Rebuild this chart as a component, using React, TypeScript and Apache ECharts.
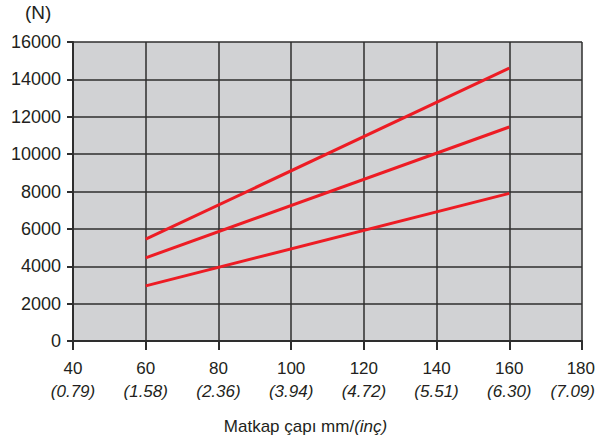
import React, { useEffect, useRef } from "react";
import * as echarts from "echarts";

const xTicksMm = [40, 60, 80, 100, 120, 140, 160, 180];
const xTicksInch = ["0.79", "1.58", "2.36", "3.94", "4.72", "5.51", "6.30", "7.09"];
const lineX = [60, 160];
const upperLine = [5450, 14600];
const middleLine = [4450, 11450];
const lowerLine = [2950, 7900];

const FONT = "Liberation Sans, Arial, sans-serif";
const TXT = "#231f20";
const GRID = "#2e2e2e";
const RED = "#ed1c24";

export default function App() {
  const ref = useRef<HTMLDivElement>(null);
  useEffect(() => {
    if (!ref.current) return;
    const chart = echarts.init(ref.current, undefined, { renderer: "svg" });
    const mk = (vals: number[]) => ({
      type: "line",
      data: lineX.map((x, i) => [x, vals[i]]),
      symbol: "none",
      lineStyle: { color: RED, width: 3 },
      z: 5,
    });
    const lastMm = xTicksMm[xTicksMm.length - 1];
    chart.setOption({
      animation: false,
      textStyle: { fontFamily: FONT },
      grid: {
        left: 73,
        right: 13,
        top: 42,
        bottom: 105,
        show: true,
        backgroundColor: "#d1d2d4",
        borderWidth: 0,
        containLabel: false,
        outerBoundsMode: "none",
      },
      xAxis: {
        type: "value",
        min: 40,
        max: 180,
        interval: 20,
        name: "{a|Matkap çapı mm/}{b|(inç)}",
        nameLocation: "middle",
        nameGap: 77,
        nameTextStyle: {
          padding: [0, 44, 0, 0],
          rich: {
            a: { fontSize: 17, color: TXT, fontFamily: FONT },
            b: { fontSize: 17, color: TXT, fontFamily: FONT, fontStyle: "italic" },
          },
        },
        axisLine: { show: true, lineStyle: { color: GRID, width: 2 } },
        axisTick: { show: true, length: 9, lineStyle: { color: GRID, width: 2 } },
        splitLine: { show: true, lineStyle: { color: GRID, width: 1.5 } },
        axisLabel: {
          margin: 16,
          hideOverlap: false,
          alignMaxLabel: "right",
          formatter: (v: number) => {
            const i = xTicksMm.indexOf(v);
            if (v === lastMm) return `{n2|${v}}\n{i2|(${xTicksInch[i]})}`;
            return `{n|${v}}\n{i|(${xTicksInch[i]})}`;
          },
          rich: {
            n: { fontSize: 17, color: TXT, lineHeight: 23, fontFamily: FONT },
            i: { fontSize: 17, color: TXT, lineHeight: 23, fontStyle: "italic", fontFamily: FONT },
            n2: { fontSize: 17, color: TXT, lineHeight: 23, fontFamily: FONT, padding: [0, -13, 0, 0] },
            i2: { fontSize: 17, color: TXT, lineHeight: 23, fontStyle: "italic", fontFamily: FONT, padding: [0, -13, 0, 0] },
          },
        },
      },
      yAxis: {
        type: "value",
        min: 0,
        max: 16000,
        interval: 2000,
        axisLine: { show: true, lineStyle: { color: GRID, width: 2 } },
        axisTick: { show: true, length: 6, lineStyle: { color: GRID, width: 2 } },
        splitLine: { show: true, lineStyle: { color: GRID, width: 1.5 } },
        axisLabel: {
          margin: 12,
          fontSize: 18,
          color: TXT,
          fontFamily: FONT,
          formatter: (v: number) => String(v),
        },
      },
      graphic: [
        {
          type: "text",
          left: 25,
          top: 3,
          style: { text: "(N)", fontSize: 19, fill: TXT, fontFamily: FONT },
        },
      ],
      series: [mk(upperLine), mk(middleLine), mk(lowerLine)],
    });
    return () => chart.dispose();
  }, []);
  return <div ref={ref} style={{ width: 595, height: 446, position: "absolute", left: 0, top: 0 }} />;
}
